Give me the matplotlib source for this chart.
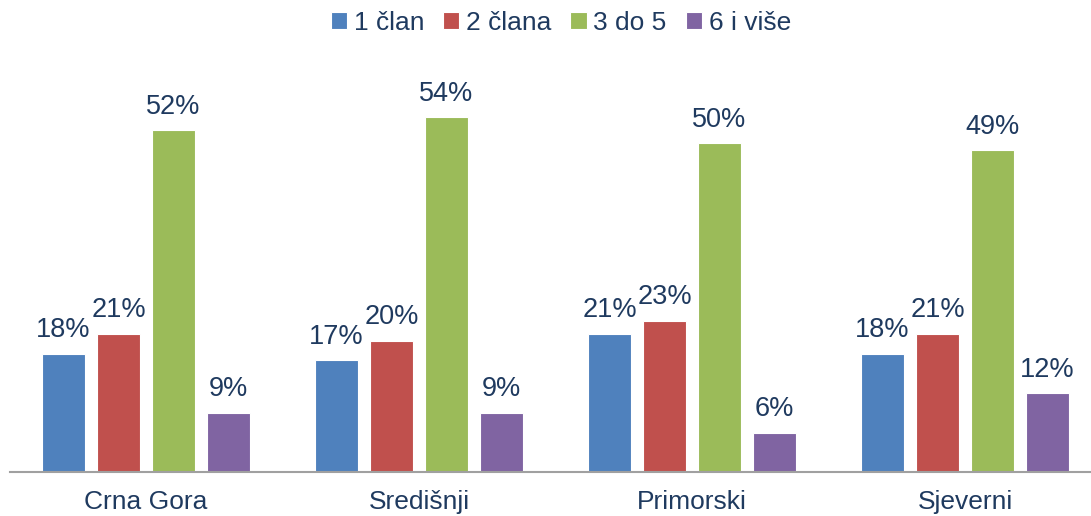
import matplotlib
matplotlib.use("Agg")
import matplotlib.pyplot as plt
import numpy as np

categories = ["Crna Gora", "Središnji", "Primorski", "Sjeverni"]
series_names = ["1 član", "2 člana", "3 do 5", "6 i više"]
v_1clan = [18, 17, 21, 18]
v_2clana = [21, 20, 23, 21]
v_3do5 = [52, 54, 50, 49]
v_6vise = [9, 9, 6, 12]
values = [v_1clan, v_2clana, v_3do5, v_6vise]
colors = ["#4F81BD", "#C0504D", "#9BBB59", "#8064A2"]
text_color = "#1F3A5F"

plt.rcParams['font.family'] = ['Liberation Sans', 'DejaVu Sans']

fig = plt.figure(figsize=(10.91, 5.16), dpi=100)
ax = fig.add_axes([9.5/1091, 44/516, 1092/1091, 412/516])

x = np.arange(len(categories))
width = 0.161
step = 0.2015
for i, (name, vals, c) in enumerate(zip(series_names, values, colors)):
    pos = x + (i - 1.5) * step
    ax.bar(pos, vals, width, color=c, label=name, edgecolor='white', linewidth=0.8)
    for xp, v in zip(pos, vals):
        ax.text(xp, v + 1.6, f"{v}%", ha='center', va='bottom', fontsize=19.5, color=text_color)

ax.set_xlim(-0.5, 3.5)
ax.set_ylim(0, 62.7)
ax.set_xticks(x)
ax.set_xticklabels(categories, fontsize=19, color=text_color)
ax.tick_params(axis='x', length=0, pad=13)
ax.set_yticks([])
for s in ['top', 'right', 'left']:
    ax.spines[s].set_visible(False)
ax.spines['bottom'].set_color('#A0A0A0')
ax.spines['bottom'].set_linewidth(1.5)

leg = fig.legend(loc='upper center', bbox_to_anchor=(0.514, 1.025), ncol=4, frameon=False,
                 fontsize=19, handlelength=0.62, handleheight=0.62, handletextpad=0.25,
                 columnspacing=0.72, labelcolor=text_color)

fig.savefig("out.png", dpi=100)
